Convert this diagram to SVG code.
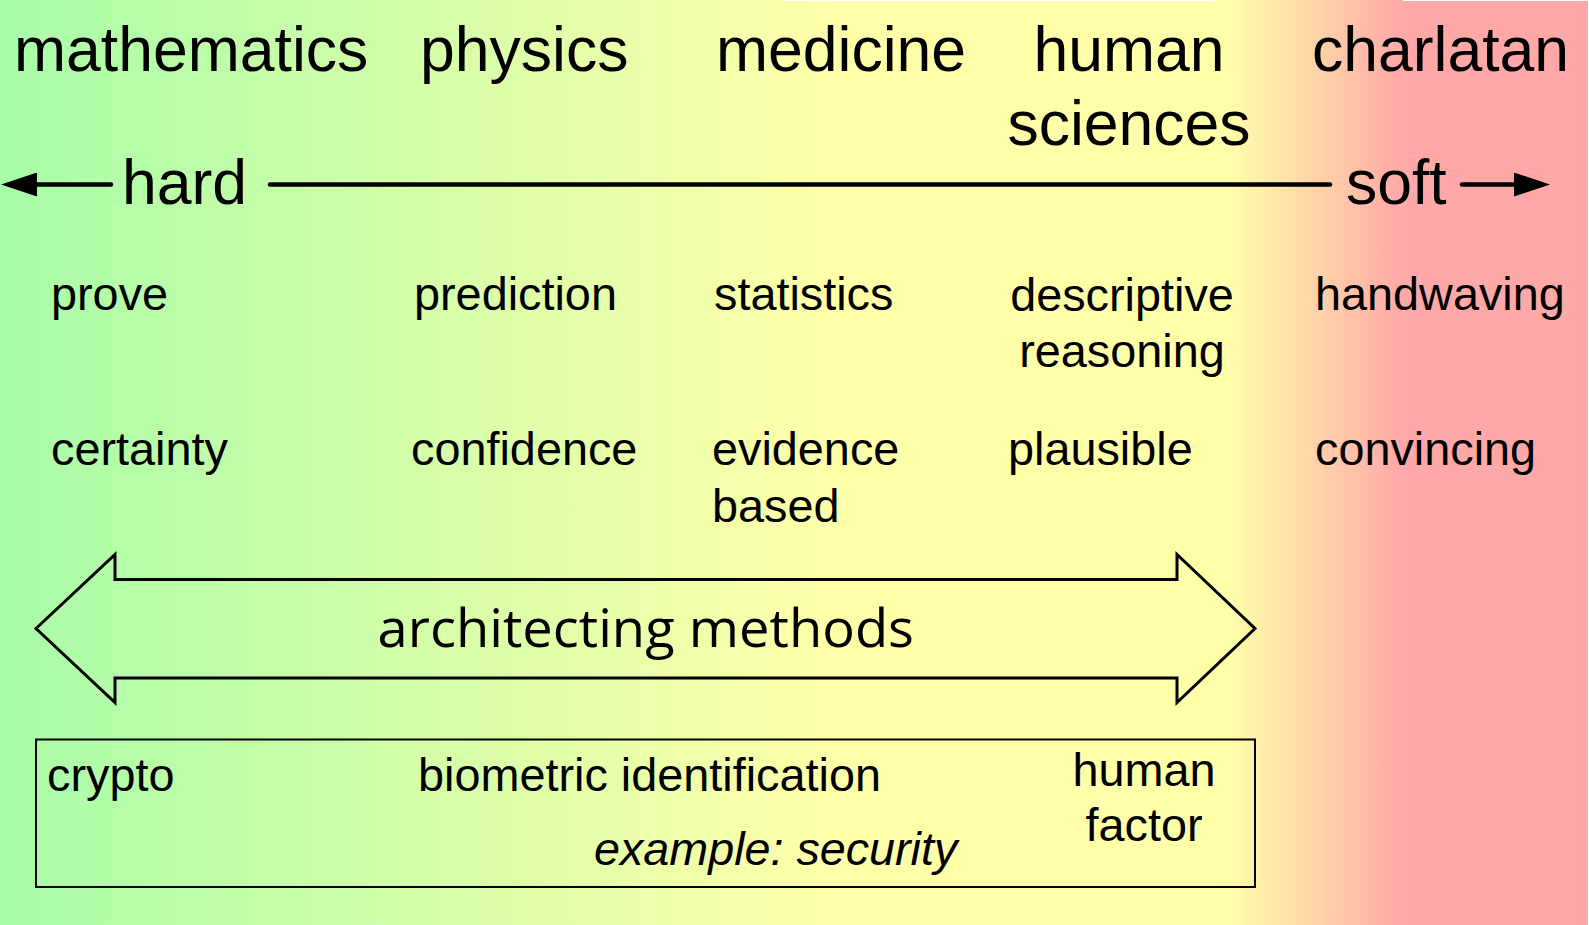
<svg xmlns="http://www.w3.org/2000/svg" width="1589" height="925" viewBox="0 0 1589 925">
  <defs>
    <linearGradient id="bg" x1="0" y1="0" x2="1589" y2="0" gradientUnits="userSpaceOnUse">
      <stop offset="0" stop-color="#a8fca8"/>
      <stop offset="0.522" stop-color="#ffffaa"/>
      <stop offset="0.772" stop-color="#ffffaa"/>
      <stop offset="0.883" stop-color="#ffa8a8"/>
      <stop offset="1" stop-color="#ffa8a8"/>
    </linearGradient>
    <marker id="head" viewBox="0 0 36 24" refX="6" refY="12" markerWidth="36" markerHeight="24" markerUnits="userSpaceOnUse" orient="auto">
      <path d="M0,0 L36,12 L0,24 z" fill="#000"/>
    </marker>
    <style>
      .big { font-family: "Liberation Sans", Arial, sans-serif; font-size: 62.5px; fill: #000; }
      .mid { font-family: "Liberation Sans", Arial, sans-serif; font-size: 46.8px; fill: #000; }
      .ital { font-family: "Liberation Sans", Arial, sans-serif; font-size: 46.7px; font-style: italic; fill: #000; }
      .cal { font-family: "Open Sans", "Noto Sans", sans-serif; font-size: 53px; fill: #000; }
      .axis { stroke: #000; stroke-width: 4.5; fill: none; stroke-linecap: round; }
      .outline { stroke: #000; stroke-width: 3; fill: none; stroke-linejoin: miter; }
      .box { stroke: #000; stroke-width: 2; fill: none; }
    </style>
  </defs>

  <g id="background">
    <rect x="0" y="0" width="1589" height="925" fill="url(#bg)"/>
    <rect x="785" y="0" width="431" height="1" fill="#fff"/>
    <rect x="1403" y="0" width="186" height="1" fill="#fff"/>
    <rect x="1588" y="0" width="1" height="925" fill="#fff"/>
  </g>

  <g id="fields">
    <text class="big" x="14" y="71">mathematics</text>
    <text class="big" x="420" y="71">physics</text>
    <text class="big" x="716" y="71">medicine</text>
    <text class="big" x="1129" y="71" text-anchor="middle">human</text>
    <text class="big" x="1129" y="145" text-anchor="middle">sciences</text>
    <text class="big" x="1312" y="71">charlatan</text>
  </g>

  <g id="axis-labels">
    <text class="big" x="122" y="204">hard</text>
    <text class="big" x="1346" y="204">soft</text>
  </g>

  <g id="connectors">
    <line class="axis" x1="111" y1="184.5" x2="31" y2="184.5" marker-end="url(#head)"/>
    <line class="axis" x1="270" y1="184.5" x2="1330" y2="184.5"/>
    <line class="axis" x1="1462" y1="184.5" x2="1520" y2="184.5" marker-end="url(#head)"/>
  </g>

  <g id="methods">
    <text class="mid" x="51" y="310">prove</text>
    <text class="mid" x="414" y="310">prediction</text>
    <text class="mid" x="714" y="310">statistics</text>
    <text class="mid" x="1122" y="311" text-anchor="middle">descriptive</text>
    <text class="mid" x="1122" y="367" text-anchor="middle">reasoning</text>
    <text class="mid" x="1315" y="310">handwaving</text>
  </g>

  <g id="qualities">
    <text class="mid" x="51" y="465">certainty</text>
    <text class="mid" x="411" y="465">confidence</text>
    <text class="mid" x="712" y="465">evidence</text>
    <text class="mid" x="712" y="522">based</text>
    <text class="mid" x="1008" y="465">plausible</text>
    <text class="mid" x="1315" y="465">convincing</text>
  </g>

  <g id="architecting-methods">
    <polygon class="outline" points="36,628.5 115,554.5 115,579.5 1177,579.5 1177,554.5 1255,628.5 1177,702.5 1177,678 115,678 115,702.5"/>
    <text class="cal" x="377.5" y="646.5" textLength="536.5" lengthAdjust="spacingAndGlyphs">architecting methods</text>
  </g>

  <g id="security-example">
    <rect class="box" x="36" y="739.5" width="1219" height="147.5"/>
    <text class="mid" x="47" y="791">crypto</text>
    <text class="mid" x="418" y="791">biometric identification</text>
    <text class="mid" x="1144" y="786" text-anchor="middle">human</text>
    <text class="mid" x="1144" y="841" text-anchor="middle">factor</text>
    <text class="ital" x="594" y="865">example: security</text>
  </g>
</svg>
